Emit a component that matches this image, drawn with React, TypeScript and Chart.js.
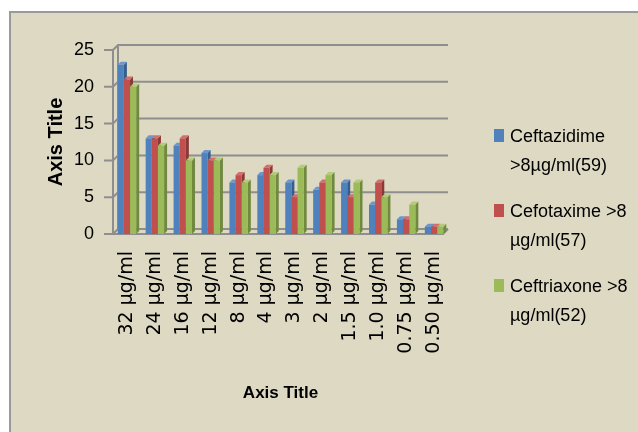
import React, { useEffect, useRef } from "react";
import { Chart, registerables } from "chart.js";

Chart.register(...registerables);

const categories = [
  "32 µg/ml", "24 µg/ml", "16 µg/ml", "12 µg/ml", "8 µg/ml", "4 µg/ml",
  "3 µg/ml", "2 µg/ml", "1.5 µg/ml", "1.0 µg/ml", "0.75 µg/ml", "0.50 µg/ml",
];
const ceftazidime = [23, 13, 12, 11, 7, 8, 7, 6, 7, 4, 2, 1];
const cefotaxime = [21, 13, 13, 10, 8, 9, 5, 7, 5, 7, 2, 1];
const ceftriaxone = [20, 12, 10, 10, 7, 8, 9, 8, 7, 5, 4, 1];
const seriesLabels = [
  "Ceftazidime >8µg/ml(59)",
  "Cefotaxime >8 µg/ml(57)",
  "Ceftriaxone >8 µg/ml(52)",
];
const legendLines = [
  ["Ceftazidime", ">8µg/ml(59)"],
  ["Cefotaxime >8", "µg/ml(57)"],
  ["Ceftriaxone >8", "µg/ml(52)"],
];
const yTicks = [0, 5, 10, 15, 20, 25];
const xTitle = "Axis Title";
const yTitle = "Axis Title";

const colors = ["#4F81BD", "#C0504D", "#9BBB59"];
const sideColors = ["#385D8A", "#8C3836", "#71893F"];
const topColors = ["#6D97CC", "#D0716E", "#B2CC7A"];

const DEPTH = 5;
const BAR_DEPTH = 3;
const GRID = "#8E8E8E";

const wallPlugin = {
  id: "wall3d",
  beforeDatasetsDraw(chart: any) {
    const { ctx, chartArea } = chart;
    const y = chart.scales.y;
    const { left, right, bottom, top } = chartArea;
    ctx.save();
    ctx.strokeStyle = GRID;
    ctx.lineWidth = 2;
    ctx.beginPath();
    ctx.moveTo(left + DEPTH, bottom - DEPTH);
    ctx.lineTo(left + DEPTH, top - DEPTH);
    ctx.stroke();
    y.ticks.forEach((t: any) => {
      const py = y.getPixelForValue(t.value);
      ctx.beginPath();
      ctx.moveTo(left - 9, py);
      ctx.lineTo(left, py);
      ctx.lineTo(left + DEPTH, py - DEPTH);
      ctx.lineTo(right, py - DEPTH);
      ctx.stroke();
    });
    ctx.beginPath();
    ctx.moveTo(left, top);
    ctx.lineTo(left, bottom);
    ctx.stroke();
    ctx.beginPath();
    ctx.moveTo(left, bottom);
    ctx.lineTo(right - DEPTH, bottom);
    ctx.lineTo(right, bottom - DEPTH);
    ctx.stroke();

    // side and top faces of bars, drawn before fronts so neighbours hide them
    chart.data.datasets.forEach((ds: any, di: number) => {
      const meta = chart.getDatasetMeta(di);
      meta.data.forEach((bar: any) => {
        const { x, y: by, base, width } = bar.getProps(["x", "y", "base", "width"], true);
        const l = x - width / 2;
        const r = x + width / 2;
        ctx.fillStyle = sideColors[di];
        ctx.beginPath();
        ctx.moveTo(r, by);
        ctx.lineTo(r + BAR_DEPTH, by - BAR_DEPTH);
        ctx.lineTo(r + BAR_DEPTH, base - BAR_DEPTH);
        ctx.lineTo(r, base);
        ctx.closePath();
        ctx.fill();
        ctx.fillStyle = topColors[di];
        ctx.beginPath();
        ctx.moveTo(l, by);
        ctx.lineTo(l + BAR_DEPTH, by - BAR_DEPTH);
        ctx.lineTo(r + BAR_DEPTH, by - BAR_DEPTH);
        ctx.lineTo(r, by);
        ctx.closePath();
        ctx.fill();
      });
    });
    ctx.restore();
  },
};

const legendPlugin = {
  id: "customLegend",
  afterDraw(chart: any) {
    const { ctx } = chart;
    ctx.save();
    ctx.font = "18px 'Liberation Sans'";
    ctx.textBaseline = "alphabetic";
    ctx.textAlign = "left";
    chart.data.datasets.forEach((ds: any, i: number) => {
      const baseY = 142 + i * 75;
      ctx.fillStyle = ds.backgroundColor;
      ctx.fillRect(494, baseY - 13, 10, 13);
      ctx.fillStyle = "#000";
      legendLines[i].forEach((line, li) => {
        ctx.fillText(line, 510, baseY + li * 28.5);
      });
    });
    ctx.restore();
  },
};

export default function App() {
  const ref = useRef<HTMLCanvasElement>(null);
  useEffect(() => {
    document.body.style.margin = "0";
    const chart = new Chart(ref.current!, {
      type: "bar",
      data: {
        labels: categories,
        datasets: [ceftazidime, cefotaxime, ceftriaxone].map((d, i) => ({
          label: seriesLabels[i],
          data: d,
          backgroundColor: colors[i],
          borderWidth: 0,
          barPercentage: 1,
          categoryPercentage: 0.66,
        })),
      },
      options: {
        animation: false,
        responsive: false,
        maintainAspectRatio: false,
        layout: { padding: { left: 44, right: 190, top: 50, bottom: 28 } },
        plugins: { legend: { display: false }, tooltip: { enabled: false } },
        scales: {
          x: {
            grid: { display: false, drawTicks: false },
            border: { display: false },
            ticks: {
              autoSkip: false,
              minRotation: 90,
              maxRotation: 90,
              padding: 17,
              color: "#000",
              font: { family: "'DejaVu Sans'", size: 19 },
            },
            title: {
              display: true,
              text: xTitle,
              color: "#000",
              padding: 0,
              font: { family: "'Liberation Sans'", size: 17, weight: "bold" },
            },
            afterFit(scale: any) {
              scale.height = 170;
            },
          },
          y: {
            min: 0,
            max: 25,
            afterBuildTicks(scale: any) {
              scale.ticks = yTicks.map((v) => ({ value: v }));
            },
            grid: { display: false, drawTicks: false },
            border: { display: false },
            ticks: {
              padding: 19,
              color: "#000",
              font: { family: "'Liberation Sans'", size: 18 },
            },
            title: {
              display: true,
              text: yTitle,
              color: "#000",
              padding: 0,
              font: { family: "'Liberation Sans'", size: 20, weight: "bold" },
            },
            afterFit(scale: any) {
              scale.width = 69;
            },
          },
        },
      },
      plugins: [wallPlugin, legendPlugin],
    });
    return () => chart.destroy();
  }, []);

  return (
    <div style={{ position: "relative", width: 638, height: 432, background: "#fff", overflow: "hidden" }}>
      <div
        style={{
          position: "absolute",
          left: 9,
          top: 11,
          width: 640,
          height: 430,
          background: "#DDD9C3",
          borderLeft: "2px solid #9A9A9A",
          borderTop: "2px solid #9A9A9A",
        }}
      />
      <canvas ref={ref} width={638} height={432} style={{ position: "absolute", left: 0, top: 0, width: 638, height: 432 }} />
    </div>
  );
}
